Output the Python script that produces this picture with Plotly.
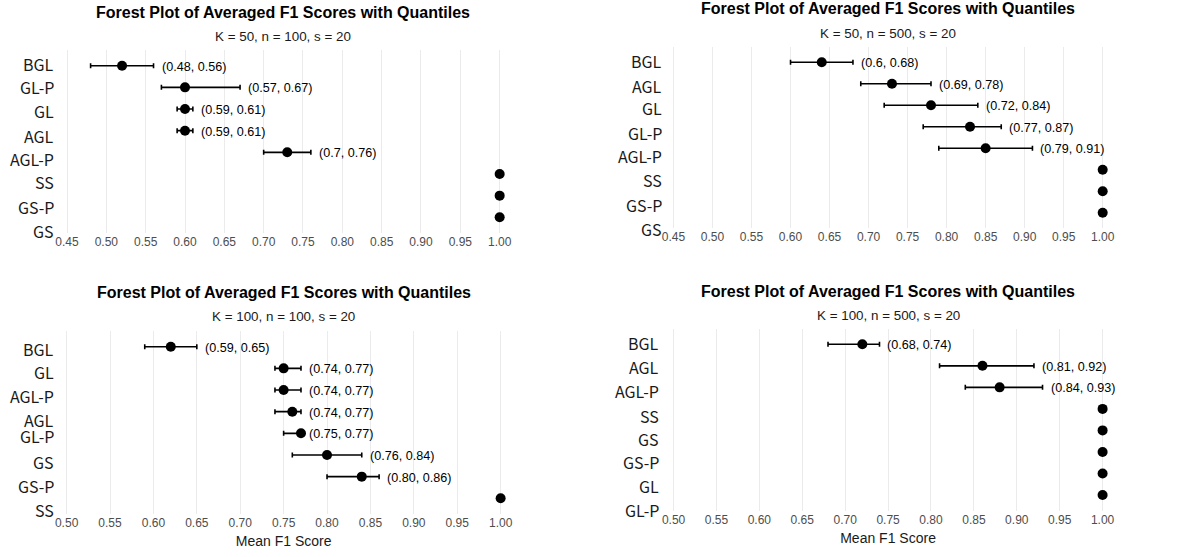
import plotly.graph_objects as go

# ---- data -------------------------------------------------------------
subtitles = ["K = 50, n = 100, s = 20", "K = 50, n = 500, s = 20",
             "K = 100, n = 100, s = 20", "K = 100, n = 500, s = 20"]

methods_a = ["BGL", "GL-P", "GL", "AGL", "AGL-P", "SS", "GS-P", "GS"]
mean_a = [0.52, 0.60, 0.60, 0.60, 0.73, 1.00, 1.00, 1.00]
lo_a = [0.48, 0.57, 0.59, 0.59, 0.70, None, None, None]
hi_a = [0.56, 0.67, 0.61, 0.61, 0.76, None, None, None]

methods_b = ["BGL", "AGL", "GL", "GL-P", "AGL-P", "SS", "GS-P", "GS"]
mean_b = [0.64, 0.73, 0.78, 0.83, 0.85, 1.00, 1.00, 1.00]
lo_b = [0.60, 0.69, 0.72, 0.77, 0.79, None, None, None]
hi_b = [0.68, 0.78, 0.84, 0.87, 0.91, None, None, None]

methods_c = ["BGL", "GL", "AGL-P", "AGL", "GL-P", "GS", "GS-P", "SS"]
mean_c = [0.62, 0.75, 0.75, 0.76, 0.77, 0.80, 0.84, 1.00]
lo_c = [0.59, 0.74, 0.74, 0.74, 0.75, 0.76, 0.80, None]
hi_c = [0.65, 0.77, 0.77, 0.77, 0.77, 0.84, 0.86, None]

methods_d = ["BGL", "AGL", "AGL-P", "SS", "GS", "GS-P", "GL", "GL-P"]
mean_d = [0.72, 0.86, 0.88, 1.00, 1.00, 1.00, 1.00, 1.00]
lo_d = [0.68, 0.81, 0.84, None, None, None, None, None]
hi_d = [0.74, 0.92, 0.93, None, None, None, None, None]

x_ranges = [(0.44, 1.01), (0.44, 1.01), (0.49, 1.01), (0.49, 1.01)]

# ---- layout (pixel geometry of the 1202 x 557 canvas) -----------------
W, H = 1202, 557
panels = [
    dict(methods=methods_a, mean=mean_a, lo=lo_a, hi=hi_a, fmt="g",
         box=(55.5, 506.9, 50.0, 233.0), title_y=12.3, sub_y=36.0,
         label_right=52, label_rows=[64, 88, 111.7, 136, 159, 182.7, 207, 231.7],
         xtitle=False),
    dict(methods=methods_b, mean=mean_b, lo=lo_b, hi=hi_b, fmt="g",
         box=(666.1, 1113.9, 46.7, 228.3), title_y=8.3, sub_y=33.3,
         label_right=664, label_rows=[61.7, 86, 109, 133.3, 156.7, 181, 205, 229.3],
         xtitle=False),
    dict(methods=methods_c, mean=mean_c, lo=lo_c, hi=hi_c, fmt=".2f",
         box=(54.3, 508.7, 331.0, 514.0), title_y=292.3, sub_y=316.0,
         label_right=52, label_rows=[349, 372.3, 396, 420.7, 436.7, 462.7, 486, 510],
         xtitle=True),
    dict(methods=methods_d, mean=mean_d, lo=lo_d, hi=hi_d, fmt="g",
         box=(665.4, 1114.6, 328.7, 510.6), title_y=291.0, sub_y=315.0,
         label_right=661, label_rows=[343.3, 367.3, 391, 416, 439.3, 462.7, 486.7, 510.7],
         xtitle=True),
]

SANS = "Liberation Sans, Arial, sans-serif"
LABEL_FONT = "Noto Sans CJK KR, Noto Sans, sans-serif"
PAD = 0.725


def px_x(v):
    return v / W


def px_y(v):
    return 1 - v / H


fig = go.Figure()
annotations = []

for i, p in enumerate(panels, start=1):
    xa = "x" if i == 1 else f"x{i}"
    ya = "y" if i == 1 else f"y{i}"
    n = len(p["methods"])
    rows = list(range(1, n + 1))

    plus = [(h - m) if h is not None else 0 for m, h in zip(p["mean"], p["hi"])]
    minus = [(m - l) if l is not None else 0 for m, l in zip(p["mean"], p["lo"])]

    fig.add_trace(go.Scatter(
        x=p["mean"], y=rows, xaxis=xa, yaxis=ya, mode="markers",
        marker=dict(color="black", size=10),
        error_x=dict(type="data", symmetric=False, array=plus, arrayminus=minus,
                     color="black", thickness=1.6, width=2.5),
        cliponaxis=False, showlegend=False, hoverinfo="skip",
    ))

    x0, x1, y0, y1 = p["box"]
    xkey = "xaxis" if i == 1 else f"xaxis{i}"
    ykey = "yaxis" if i == 1 else f"yaxis{i}"
    fig.update_layout(**{
        xkey: dict(domain=[px_x(x0), px_x(x1)], anchor=ya, range=list(x_ranges[i - 1]),
                   dtick=0.05, tick0=0, tickformat=".2f", showgrid=True,
                   gridcolor="#ebebeb", gridwidth=1.3, zeroline=False, showline=False,
                   ticks="", tickfont=dict(family=SANS, size=12, color="#4d4d4d"),
                   title=dict(text="Mean F1 Score" if p["xtitle"] else "",
                              font=dict(family=SANS, size=14, color="#1a1a1a"),
                              standoff=7)),
        ykey: dict(domain=[px_y(y1), px_y(y0)], anchor=xa,
                   range=[n + PAD, 1 - PAD], showgrid=False, zeroline=False,
                   showticklabels=False, showline=False, ticks=""),
    })

    # interval text next to each bar
    for m, l, h, r in zip(p["mean"], p["lo"], p["hi"], rows):
        if l is None:
            continue
        txt = f"({l:{p['fmt']}}, {h:{p['fmt']}})"
        annotations.append(dict(x=h, y=r, xref=xa, yref=ya, text=txt, showarrow=False,
                                xanchor="left", yanchor="middle", xshift=6, yshift=-1,
                                font=dict(family=SANS, size=12.6, color="black")))

    # method names down the left side
    for name, ry in zip(p["methods"], p["label_rows"]):
        annotations.append(dict(x=px_x(p["label_right"]), y=px_y(ry - 0.5), xref="paper",
                                yref="paper", text=name, showarrow=False,
                                xanchor="right", yanchor="middle",
                                font=dict(family=LABEL_FONT, size=16, color="#1a1a1a")))

    cx = (x0 + x1) / 2
    annotations.append(dict(x=px_x(cx), y=px_y(p["title_y"]), xref="paper", yref="paper",
                            text="<b>Forest Plot of Averaged F1 Scores with Quantiles</b>",
                            showarrow=False, xanchor="center", yanchor="middle",
                            font=dict(family=SANS, size=16, color="black")))
    annotations.append(dict(x=px_x(cx), y=px_y(p["sub_y"]), xref="paper", yref="paper",
                            text=subtitles[i - 1], showarrow=False,
                            xanchor="center", yanchor="middle",
                            font=dict(family=SANS, size=13.4, color="#1a1a1a")))

fig.update_layout(width=W, height=H, margin=dict(l=0, r=0, t=0, b=0),
                  paper_bgcolor="white", plot_bgcolor="white",
                  annotations=annotations, showlegend=False)

fig.write_html("out.html")
